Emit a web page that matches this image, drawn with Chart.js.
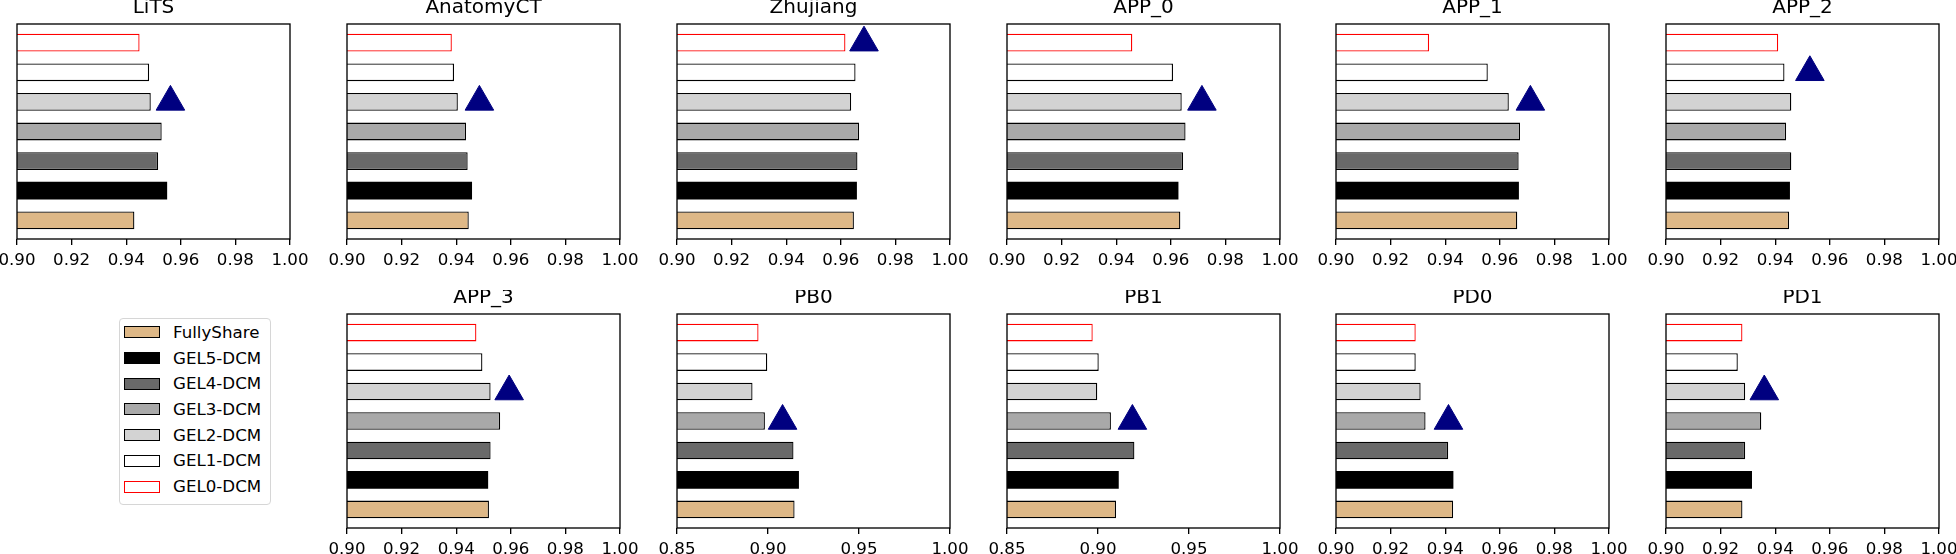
<!DOCTYPE html>
<html><head><meta charset="utf-8">
<script src="https://cdn.jsdelivr.net/npm/chart.js@4.4.1/dist/chart.umd.min.js"></script>
<style>
html,body{margin:0;padding:0;background:#fff;width:1956px;height:554px;overflow:hidden;}
#wrap{position:relative;width:1956px;height:554px;overflow:hidden;}
canvas{position:absolute;}
#legend{position:absolute;left:119px;top:318px;width:152px;height:187px;box-sizing:border-box;border:1px solid #d6d6d6;border-radius:4px;background:#fff;font-family:'DejaVu Sans';font-size:16.67px;color:#000;}
.lrow{position:absolute;left:0;height:20px;display:flex;align-items:center;white-space:nowrap;}
.lpatch{box-sizing:border-box;width:36px;height:12px;margin-left:4px;margin-right:13px;border:1.3px solid #000;}
</style></head>
<body><div id="wrap"><div id="legend"></div></div>
<script>
// ---- data ----
const datasetNames = ['LiTS','AnatomyCT','Zhujiang','APP_0','APP_1','APP_2','APP_3','PB0','PB1','PD0','PD1'];
const methods = ['FullyShare','GEL5-DCM','GEL4-DCM','GEL3-DCM','GEL2-DCM','GEL1-DCM','GEL0-DCM'];
const fullyShare = [0.9430,0.9446,0.9648,0.9635,0.9664,0.9451,0.9520,0.9146,0.9099,0.9429,0.9280];
const gel5 = [0.9550,0.9458,0.9659,0.9628,0.9670,0.9454,0.9517,0.9170,0.9114,0.9430,0.9315];
const gel4 = [0.9517,0.9442,0.9661,0.9645,0.9669,0.9459,0.9526,0.9140,0.9200,0.9411,0.9290];
const gel3 = [0.9530,0.9436,0.9667,0.9654,0.9674,0.9440,0.9561,0.8983,0.9071,0.9328,0.9349];
const gel2 = [0.9490,0.9406,0.9638,0.9640,0.9633,0.9459,0.9526,0.8915,0.8996,0.9310,0.9290];
const gel1 = [0.9484,0.9392,0.9654,0.9608,0.9556,0.9434,0.9496,0.8996,0.9004,0.9292,0.9263];
const gel0 = [0.9449,0.9384,0.9617,0.9459,0.9341,0.9411,0.9474,0.8948,0.8971,0.9292,0.9280];
const markerMethod = ['GEL2-DCM','GEL2-DCM','GEL0-DCM','GEL2-DCM','GEL2-DCM','GEL1-DCM','GEL2-DCM','GEL3-DCM','GEL3-DCM','GEL3-DCM','GEL2-DCM'];
const markerValue = [0.9562,0.9485,0.9685,0.9714,0.9712,0.9527,0.9594,0.9080,0.9189,0.9412,0.9360];
const xMinValue = [0.90,0.90,0.90,0.90,0.90,0.90,0.90,0.85,0.85,0.90,0.90];
const xMaxValue = 1.00;
const ticksFine = [0.90,0.92,0.94,0.96,0.98,1.00];
const ticksCoarse = [0.85,0.90,0.95,1.00];

const seriesByMethod = [fullyShare, gel5, gel4, gel3, gel2, gel1, gel0];

// ---- styles ----
const faceColors = ['#deb887','#000000','#696969','#a9a9a9','#d3d3d3','#ffffff','#ffffff'];
const edgeColors = ['#000000','#000000','#000000','#000000','#000000','#000000','#ff0000'];
const edgeWidths = [1.3,0,1.3,1.3,1.3,1.3,1.3];
const FONT = 'DejaVu Sans';

// ---- layout ----
const colLeft = [17,347,677,1007,1336,1666];
const plotW = 273;
const rowTop = [24,314];
const plotH = [215,214];
const PAD = 25, TITLE_H = 24, XAX_H = 30;

const boxPlugin = {
  id:'box',
  afterDraw(chart){
    const {ctx, chartArea:a} = chart;
    ctx.save();
    ctx.strokeStyle = '#000';
    ctx.lineWidth = 1.33;
    ctx.strokeRect(a.left, a.top, a.right - a.left, a.bottom - a.top);
    ctx.restore();
  }
};

const wrap = document.getElementById('wrap');
datasetNames.forEach((name, i) => {
  const row = i < 6 ? 0 : 1;
  const col = i < 6 ? i : i - 5;
  const cv = document.createElement('canvas');
  const w = plotW + 2*PAD, h = TITLE_H + plotH[row] + XAX_H;
  cv.width = w; cv.height = h;
  cv.style.width = w + 'px'; cv.style.height = h + 'px';
  cv.style.left = (colLeft[col] - PAD) + 'px';
  cv.style.top = (rowTop[row] - TITLE_H) + 'px';
  wrap.appendChild(cv);
  const tickList = xMinValue[i] < 0.9 ? ticksCoarse : ticksFine;
  new Chart(cv, {
    type:'bar',
    data:{
      datasets:[
        {
          type:'bar',
          data: methods.map((m,k) => ({x: seriesByMethod[k][i], y: k})),
          backgroundColor: faceColors,
          borderColor: edgeColors,
          borderWidth: edgeWidths,
          borderSkipped: 'start',
          categoryPercentage: 1,
          barPercentage: 0.6,
          order: 2
        },
        {
          type:'scatter',
          data:[{x: markerValue[i], y: methods.indexOf(markerMethod[i])}],
          pointStyle:'triangle',
          radius:16.5,
          backgroundColor:'#000080',
          borderColor:'#000080',
          borderWidth:1,
          order:1
        }
      ]
    },
    options:{
      indexAxis:'y',
      responsive:false,
      animation:false,
      events:[],
      layout:{padding:{left:PAD,right:PAD,top:0,bottom:0}},
      plugins:{
        legend:{display:false},
        tooltip:{enabled:false},
        title:{display:true,text:name,color:'#000',
          font:{family:FONT,size:20,weight:'normal',lineHeight:0.8},
          padding:{top:0,bottom:8}}
      },
      scales:{
        x:{
          type:'linear',position:'bottom',min:xMinValue[i],max:xMaxValue,beginAtZero:false,
          afterBuildTicks: s => { s.ticks = tickList.map(v => ({value:v})); },
          afterFit: s => { s.height = XAX_H; },
          ticks:{callback: v => Number(v).toFixed(2), font:{family:FONT,size:16.67}, color:'#000', padding:6, maxRotation:0, autoSkip:false},
          grid:{display:true,drawOnChartArea:false,drawTicks:true,tickLength:6,color:'#000',lineWidth:1.33},
          border:{display:false}
        },
        y:{
          type:'linear',min:-0.63,max:6.63,display:false,offset:false,
          afterBuildTicks: s => { s.ticks = methods.map((m,k) => ({value:k})); }
        }
      }
    },
    plugins:[boxPlugin]
  });
});

// ---- legend ----
const legend = document.getElementById('legend');
methods.forEach((m,k) => {
  const r = document.createElement('div');
  r.className = 'lrow';
  r.style.top = (3.3 + k*25.73) + 'px';
  const p = document.createElement('div');
  p.className = 'lpatch';
  p.style.background = faceColors[k];
  p.style.borderColor = edgeColors[k];
  const t = document.createElement('span');
  t.textContent = m;
  r.appendChild(p); r.appendChild(t);
  legend.appendChild(r);
});
</script></body></html>
